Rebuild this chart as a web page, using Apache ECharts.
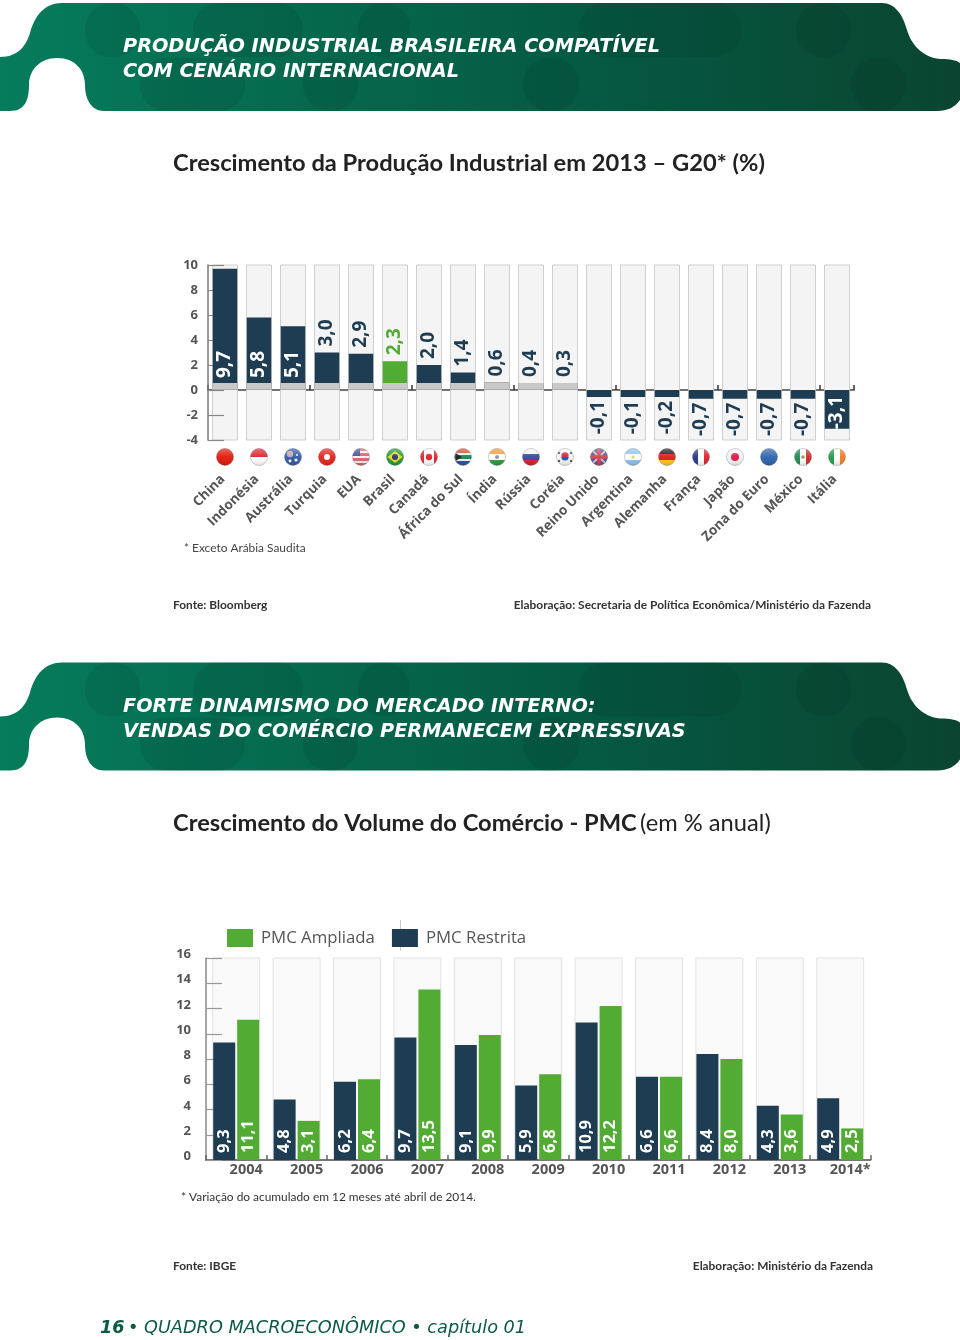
<!DOCTYPE html>
<html><head><meta charset="utf-8">
<style>html,body{margin:0;padding:0;background:#fff}#c{width:960px;height:1340px}</style>
<script src="https://cdn.jsdelivr.net/npm/echarts@6/dist/echarts.min.js"></script>
</head><body><div id="c"></div>
<script>
// ---- Chart 1 data
const g20Names = ['China','Indonésia','Austrália','Turquia','EUA','Brasil','Canadá','África do Sul','Índia','Rússia','Coréia','Reino Unido','Argentina','Alemanha','França','Japão','Zona do Euro','México','Itália'];
const g20Values = [9.7,5.8,5.1,3.0,2.9,2.3,2.0,1.4,0.6,0.4,0.3,-0.1,-0.1,-0.2,-0.7,-0.7,-0.7,-0.7,-3.1];
const g20BaseBand = [0.5,0.5,0.5,0.5,0.5,0.5,0.5,0.5,0.6,0.4,0.3,null,null,null,null,null,null,null,null];
const g20Ticks = [-4,-2,0,2,4,6,8,10];
// ---- Chart 2 data
const pmcYears = ['2004','2005','2006','2007','2008','2009','2010','2011','2012','2013','2014*'];
const pmcRestrita = [9.3,4.8,6.2,9.7,9.1,5.9,10.9,6.6,8.4,4.3,4.9];
const pmcAmpliada = [11.1,3.1,6.4,13.5,9.9,6.8,12.2,6.6,8.0,3.6,2.5];
// ---- Texts
const banner1 = ['PRODUÇÃO INDUSTRIAL BRASILEIRA COMPATÍVEL','COM CENÁRIO INTERNACIONAL'];
const banner2 = ['FORTE DINAMISMO DO MERCADO INTERNO:','VENDAS DO COMÉRCIO PERMANECEM EXPRESSIVAS'];

const NAVY='#1f3d52', GREEN='#52ab32', GREY='#555';
const comma = v => String(v.toFixed(1)).replace('.',',');
const hard=(dir,cols,stops)=>{const n=cols.length,cs=[];cols.forEach((c,i)=>{const a=stops?stops[i]:i/n,b=stops?stops[i+1]:(i+1)/n;cs.push({offset:a,color:c},{offset:b,color:c});});
  return {type:'linear',x:0,y:0,x2:dir==='v'?1:0,y2:dir==='v'?0:1,colorStops:cs};};
// flag designs, one per country
const flags=[
 {fill:'#e3170a'},
 {fill:hard('h',['#e0202c','#ffffff'])},
 {fill:'#2f5aa8',extra:'au'},
 {fill:'#e2231a',dot:['#ffffff',3]},
 {fill:hard('h',['#d9636b','#f4f0f0','#d9636b','#f4f0f0','#d9636b','#f4f0f0','#d9636b']),extra:'us'},
 {fill:'#1c9a3a',extra:'br'},
 {fill:hard('v',['#e0202c','#ffffff','#e0202c'],[0,.22,.78,1]),dot:['#e0202c',3.2]},
 {fill:hard('h',['#d84a30','#f0f0f0','#118a4f','#f0f0f0','#2b4fa0'],[0,.3,.4,.6,.7,1]),extra:'za'},
 {fill:hard('h',['#f39a3a','#ffffff','#2d9a3c']),dot:['#8a90b8',2]},
 {fill:hard('h',['#f2f2f2','#34489c','#d6202a'])},
 {fill:'#f4f4f4',extra:'kr'},
 {fill:'#3b5aa0',extra:'uk'},
 {fill:hard('h',['#8cc2ee','#ffffff','#8cc2ee']),dot:['#f0d060',1.6]},
 {fill:hard('h',['#1a1a1a','#d8201c','#f8c81c'])},
 {fill:hard('v',['#25358c','#ffffff','#e0202c'])},
 {fill:'#f4f4f4',dot:['#e0164a',4]},
 {fill:'#2a62ae'},
 {fill:hard('v',['#1a8a50','#ffffff','#d0282c']),dot:['#a08a50',1.8]},
 {fill:hard('v',['#1f9a48','#ffffff','#f47b20'])}
];
function renderFlag(params,api){
  const i=api.value(0), p=api.coord([i,-4]), cx=p[0], cy=p[1]+17, r=8.5, f=flags[i], kids=[];
  const C=(x,y,rr,fill)=>({type:'circle',shape:{cx:cx+x,cy:cy+y,r:rr},style:{fill:fill}});
  const R=(x,y,w,h,fill)=>({type:'rect',shape:{x:cx+x,y:cy+y,width:w,height:h},style:{fill:fill}});
  kids.push({type:'circle',shape:{cx,cy,r},style:{fill:f.fill,stroke:'rgba(90,90,90,.45)',lineWidth:.7}});
  if(f.dot)kids.push(C(0,0,f.dot[1],f.dot[0]));
  if(f.extra==='au'){kids.push(C(-3,-3,3.2,'#c9a0b4'),C(3,3,1.5,'#ffffff'),C(4,-2,1,'#ffffff'),C(-3,4,1.4,'#ffffff'));}
  if(f.extra==='us'){kids.push({type:'path',shape:{pathData:`M${cx-7.6},${cy-3.6} A8.5,8.5 0 0 1 ${cx-1},${cy-8.4} L${cx-1},${cy-1} L${cx-8.4},${cy-1} Z`},style:{fill:'#3c4f90'}});}
  if(f.extra==='br'){kids.push({type:'polygon',shape:{points:[[cx-7.5,cy],[cx,cy-6],[cx+7.5,cy],[cx,cy+6]]},style:{fill:'#f2d41e'}},C(0,0,3,'#23357f'));}
  if(f.extra==='za'){kids.push({type:'polygon',shape:{points:[[cx-7.5,cy-4],[cx-1,cy],[cx-7.5,cy+4]]},style:{fill:'#1a1a1a'}});}
  if(f.extra==='kr'){kids.push(C(0,-1.2,3.6,'#d8203c'),{type:'path',shape:{pathData:`M${cx-3.6},${cy} A3.6,3.6 0 0 0 ${cx+3.6},${cy} Z`},style:{fill:'#2b4fa0'}},R(-7,-5,2,2,'#555'),R(5,-5,2,2,'#555'),R(-7,3,2,2,'#555'),R(5,3,2,2,'#555'));}
  if(f.extra==='uk'){kids.push({type:'line',shape:{x1:cx-6,y1:cy-6,x2:cx+6,y2:cy+6},style:{stroke:'#e8b0b8',lineWidth:2}},{type:'line',shape:{x1:cx+6,y1:cy-6,x2:cx-6,y2:cy+6},style:{stroke:'#e8b0b8',lineWidth:2}},R(-8.3,-1.7,16.6,3.4,'#d8404c'),R(-1.7,-8.3,3.4,16.6,'#d8404c'));}
  kids.push({type:'circle',shape:{cx,cy,r},style:{fill:{type:'linear',x:0,y:0,x2:0,y2:1,colorStops:[{offset:0,color:'rgba(255,255,255,.35)'},{offset:.5,color:'rgba(255,255,255,.05)'},{offset:1,color:'rgba(0,0,0,.12)'}]}}});
  return {type:'group',children:kids};
}
const bannerPath='M0,57 C18,57 26,46 30,33 C35,15 45,3 62,3 L882,3 C895,3 903,15 907,30 C912,47 925,58 941,59 C950,59 956,60 960,63 L960,100 C955,107 948,111 937,111 L104,111 C92,111 85,100 85,85 C85,70 75,58 57,58 C40,58 29,70 29,85 C29,100 25,111 10,111 L0,111 Z';
const pills=[[85,3,55,54],[140,58,105,53],[193,3,110,54],[303,58,55,53],[358,3,52,54],[523,58,56,53],[579,3,162,54],[796,3,55,54],[851,58,55,53]];
const bannerOffsets=[0,659.5];
function renderBanner(params,api){
  const dy=api.value(0), kids=[{type:'path',x:0,y:dy,shape:{pathData:bannerPath},
    style:{fill:{type:'linear',x:0,y:0,x2:1,y2:0,colorStops:[{offset:0,color:'#067c5d'},{offset:.3,color:'#056a4e'},{offset:.6,color:'#055a43'},{offset:1,color:'#0a4530'}]}}}];
  pills.forEach(p=>kids.push({type:'rect',shape:{x:p[0],y:p[1]+dy,width:p[2],height:p[3],r:26},style:{fill:'rgba(0,40,25,.11)'}}));
  return {type:'group',children:kids};
}
function bannerText(dy,lines){
  return lines.map((t,i)=>({type:'text',z:30,x:123,y:dy+47+i*25,style:{text:t,fill:'#fff',font:'italic bold 19.3px "DejaVu Sans"',verticalAlign:'middle'}}));
}
const txt=(t,x,y,font,fill,align)=>({type:'text',x,y,z:30,style:{text:t,font,fill:fill||'#222',align:align||'left',verticalAlign:'middle'}});

const g20Data=g20Values.map((v,i)=>{
  const inside=v>5||v<-3, br=g20Names[i]==='Brasil';
  const lab=inside?{position:v>0?'insideBottom':'insideTop',distance:v>0?10:8,color:'#fff',align:v>0?'left':'right'}
    :{position:v>0?'top':'bottom',distance:v>0?4:6,color:br?GREEN:NAVY,align:v>0?'left':'right'};
  return {value:v,itemStyle:{color:br?GREEN:NAVY},label:lab};
});

const option={
 animation:false,backgroundColor:'#fff',
 legend:{left:222,top:924,itemWidth:26,itemHeight:18,itemGap:17,icon:'rect',selectedMode:false,data:['PMC Ampliada','PMC Restrita'],
   textStyle:{fontFamily:'Open Sans',fontSize:16.8,color:GREY,padding:[0,0,0,3]}},
 grid:[{left:208,width:646,top:265,height:175},{left:206,width:664.4,top:958,height:202}],
 xAxis:[
  {gridIndex:0,type:'category',data:g20Names,position:'bottom',z:0,axisLine:{onZero:true,lineStyle:{color:'#444',width:1.5}},axisTick:{show:true,inside:true,length:5,lineStyle:{color:'#333',width:1.5}},axisLabel:{show:false}},
  {gridIndex:0,type:'category',data:g20Names,position:'bottom',axisLine:{show:false,onZero:false},axisTick:{show:false},
    axisLabel:{interval:0,rotate:45,margin:35,padding:[0,3,0,0],fontFamily:'Open Sans',fontWeight:700,fontSize:13.5,color:GREY}},
  {gridIndex:1,type:'category',data:pmcYears,position:'bottom',z:3,axisLine:{lineStyle:{color:'#777',width:2}},axisTick:{show:true,inside:true,length:5,lineStyle:{color:'#666',width:1.5}},
    axisLabel:{interval:0,margin:2,padding:[0,0,0,20],fontFamily:'Open Sans',fontWeight:700,fontSize:14.5,color:GREY}},
  {gridIndex:1,type:'category',data:pmcYears,show:false}
 ],
 yAxis:[
  {gridIndex:0,type:'value',min:-4,max:10,interval:2,z:3,splitLine:{show:false},axisLine:{show:true,onZero:false,lineStyle:{color:'#777',width:1.5}},
    axisTick:{show:true,inside:true,length:16,lineStyle:{color:'#888',width:1.2}},axisLabel:{margin:10,fontFamily:'Open Sans',fontWeight:700,fontSize:13,color:GREY,formatter:v=>g20Ticks.includes(v)?String(v):''}},
  {gridIndex:1,type:'value',min:0,max:16,interval:2,z:3,splitLine:{show:false},axisLine:{show:true,lineStyle:{color:'#888',width:1.5}},
    axisTick:{show:true,inside:true,length:16,lineStyle:{color:'#999',width:1.2}},axisLabel:{margin:15,verticalAlign:'bottom',lineHeight:7,fontFamily:'Open Sans',fontWeight:700,fontSize:13,color:GREY}}
 ],
 series:[
  {name:'faixas',type:'custom',coordinateSystem:'none',z:1,silent:true,data:bannerOffsets.map(d=>[d]),renderItem:renderBanner},
  {name:'fundo1',type:'bar',xAxisIndex:1,yAxisIndex:0,z:1,barWidth:25,data:g20Values.map(()=>0),showBackground:true,silent:true,backgroundStyle:{color:'#f4f4f4',borderColor:'#cfcfcf',borderWidth:1}},
  {name:'Produção Industrial',type:'bar',xAxisIndex:0,yAxisIndex:0,z:4,barWidth:24.5,barGap:'-100%',barMinHeight:7,data:g20Data,
    label:{show:true,rotate:90,verticalAlign:'middle',offset:[2,0],fontFamily:'Open Sans',fontWeight:700,fontSize:19,formatter:p=>comma(p.value)}},
  {name:'base',type:'bar',xAxisIndex:0,yAxisIndex:0,z:5,barWidth:24.5,barGap:'-100%',barMinHeight:7,data:g20BaseBand,silent:true,
    itemStyle:{color:{type:'linear',x:0,y:0,x2:0,y2:1,colorStops:[{offset:0,color:'#c9c9c9'},{offset:.8,color:'#c9c9c9'},{offset:1,color:'#9a9a9a'}]}}},
  {name:'bandeiras',type:'custom',xAxisIndex:0,yAxisIndex:0,z:6,clip:false,silent:true,data:g20Names.map((n,i)=>[i,-4]),renderItem:renderFlag},
  {name:'fundo2',type:'bar',xAxisIndex:3,yAxisIndex:1,z:1,barWidth:47,data:pmcYears.map(()=>0),showBackground:true,silent:true,backgroundStyle:{color:'#f9f9f9',borderColor:'#e2e2e2',borderWidth:1}},
  {name:'PMC Restrita',type:'bar',xAxisIndex:2,yAxisIndex:1,z:4,barWidth:22,barGap:'9%',data:pmcRestrita,itemStyle:{color:NAVY},
    label:{show:true,position:'insideBottom',distance:6,rotate:90,align:'left',verticalAlign:'middle',offset:[1,0],color:'#fff',fontFamily:'Open Sans',fontWeight:700,fontSize:16.5,formatter:p=>comma(p.value)}},
  {name:'PMC Ampliada',type:'bar',xAxisIndex:2,yAxisIndex:1,z:4,barWidth:22,barGap:'9%',data:pmcAmpliada,itemStyle:{color:GREEN},
    label:{show:true,position:'insideBottom',distance:6,rotate:90,align:'left',verticalAlign:'middle',offset:[1,0],color:'#fff',fontFamily:'Open Sans',fontWeight:700,fontSize:16.5,formatter:p=>comma(p.value)}}
 ],
 graphic:{elements:[].concat(
  bannerText(0,banner1),bannerText(659.5,banner2),
  [txt('Crescimento da Produção Industrial em 2013 – G20* (%)',173,163,'bold 23.7px Lato'),
   {type:'text',x:173,y:823,z:30,style:{rich:{b:{font:'bold 23.7px Lato',fill:'#222'},r:{font:'23.7px Lato',fill:'#222'}},text:'{b|Crescimento do Volume do Comércio - PMC} {r|(em % anual)}',verticalAlign:'middle'}},
   txt('* Exceto Arábia Saudita',184,548,'11.9px Lato','#444'),
   txt('Fonte: Bloomberg',173,605,'bold 11.9px Lato','#333'),
   txt('Elaboração: Secretaria de Política Econômica/Ministério da Fazenda',871,605,'bold 11.9px Lato','#333','right'),
   txt('* Variação do acumulado em 12 meses até abril de 2014.',181,1197,'11.9px Lato','#333'),
   txt('Fonte: IBGE',173,1266,'bold 11.9px Lato','#333'),
   txt('Elaboração: Ministério da Fazenda',873,1266,'bold 11.9px Lato','#333','right'),
   {type:'line',z:0,shape:{x1:400.5,y1:920,x2:400.5,y2:951},style:{stroke:'#ccc',lineWidth:1}},
   {type:'text',x:100,y:1328,z:30,style:{rich:{a:{font:'italic bold 17.7px "DejaVu Sans"',fill:'#0b5a44'},c:{font:'italic 17.7px "DejaVu Sans"',fill:'#0b5a44'}},text:'{a|16} {c|• QUADRO MACROECONÔMICO • capítulo 01}',verticalAlign:'middle'}}
  ])}
};
const chart=echarts.init(document.getElementById('c'),null,{renderer:'canvas',width:960,height:1340});
chart.setOption(option);
</script></body></html>
